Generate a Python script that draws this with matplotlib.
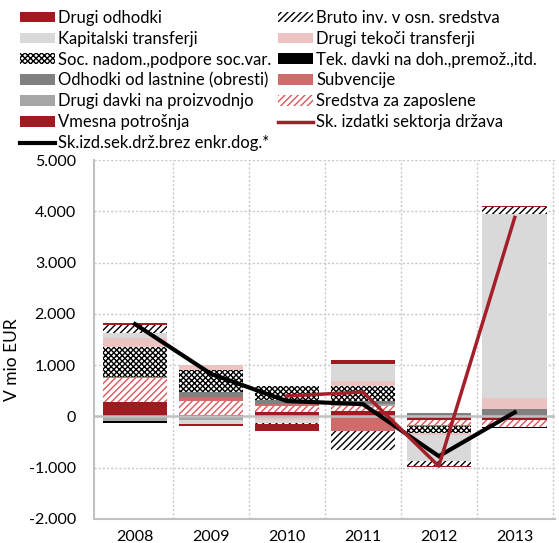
import numpy as np
import matplotlib
matplotlib.use("Agg")
import matplotlib.pyplot as plt
from matplotlib.ticker import FuncFormatter, FixedLocator
from matplotlib.patches import Patch
from matplotlib.lines import Line2D

plt.rcParams['font.family'] = ['Lato', 'DejaVu Sans']
plt.rcParams['axes.unicode_minus'] = False
plt.rcParams['hatch.linewidth'] = 1.0

years = ["2008", "2009", "2010", "2011", "2012", "2013"]

# stacked components (mio EUR), bottom-up stacking order
vmesna      = [290, 20, 90, 100, -60, -60]
sredstva    = [450, 290, 115, 100, -100, -145]
drugi_davki = [-80, -70, 0, 50, 0, 0]
subvencije  = [20, 75, 40, -290, -20, 0]
odhodki_last= [0, 100, 80, 50, 60, 150]
tek_davki   = [-40, 0, 0, 0, 0, -20]
soc_nadom   = [585, 430, 260, 290, -145, 0]
drugi_tek   = [175, 80, -70, 100, -40, 205]
kapitalski  = [100, -80, -50, 330, -505, 3600]
bruto_inv   = [165, 0, -25, -370, -90, 125]
drugi_odh   = [30, -40, -130, 80, -25, 30]

# lines
sk_izdatki      = [np.nan, np.nan, 400, 475, -970, 3880]
sk_izd_brez     = [1800, 830, 300, 240, -775, 80]

DR = "#9e1b22"
series = [
    ("Vmesna potrošnja", vmesna, dict(facecolor=DR, edgecolor=DR, hatch=None)),
    ("Sredstva za zaposlene", sredstva, dict(facecolor="white", edgecolor="#e0565a", hatch="/////")),
    ("Drugi davki na proizvodnjo", drugi_davki, dict(facecolor="#a6a6a6", edgecolor="#a6a6a6", hatch=None)),
    ("Subvencije", subvencije, dict(facecolor="#cf6b6b", edgecolor="#cf6b6b", hatch=None)),
    ("Odhodki od lastnine (obresti)", odhodki_last, dict(facecolor="#808080", edgecolor="#808080", hatch=None)),
    ("Tek. davki na doh.,premož.,itd.", tek_davki, dict(facecolor="black", edgecolor="black", hatch=None)),
    ("Soc. nadom.,podpore soc.var.", soc_nadom, dict(facecolor="white", edgecolor="black", hatch="xxxxxx")),
    ("Drugi tekoči transferji", drugi_tek, dict(facecolor="#ecc3c3", edgecolor="#ecc3c3", hatch=None)),
    ("Kapitalski transferji", kapitalski, dict(facecolor="#d9d9d9", edgecolor="#d9d9d9", hatch=None)),
    ("Bruto inv. v osn. sredstva", bruto_inv, dict(facecolor="white", edgecolor="black", hatch="/////")),
    ("Drugi odhodki", drugi_odh, dict(facecolor=DR, edgecolor=DR, hatch=None)),
]

fig = plt.figure(figsize=(5.59, 5.43), dpi=100)
ax = fig.add_axes([94/559, (543-519)/543, (555-94)/559, (519-160)/543])

x = np.arange(len(years))
pos = np.zeros(len(years))
neg = np.zeros(len(years))
handles = {}
for name, vals, st in series:
    v = np.array(vals, dtype=float)
    bottoms = np.where(v >= 0, pos, neg)
    ax.bar(x, v, width=0.85, bottom=bottoms, linewidth=0, zorder=3, **st)
    pos = pos + np.where(v > 0, v, 0)
    neg = neg + np.where(v < 0, v, 0)
    handles[name] = Patch(linewidth=0, **st)

ax.plot(x, sk_izd_brez, color="black", lw=3, zorder=5, solid_joinstyle="miter")
ax.plot(x, sk_izdatki, color="#a3202a", lw=2.5, zorder=6)

ax.set_xlim(-0.54, 5.53)
ax.set_ylim(-2000, 5000)
ax.set_xticks(x)
ax.set_xticklabels(years)
ax.yaxis.set_major_locator(FixedLocator(range(-2000, 5001, 1000)))
ax.yaxis.set_major_formatter(FuncFormatter(lambda v, p: f"{int(v):,}".replace(",", ".")))
ax.tick_params(axis="y", length=0, pad=13, labelsize=11.5)
ax.tick_params(axis="x", length=0, pad=8, labelsize=11.5)

for yv in range(-2000, 5001, 1000):
    if yv == 0:
        continue
    ax.axhline(yv, color="#c8c8c8", lw=1, ls=(0, (1.5, 1.5)), zorder=1)
for xv in np.arange(0.5, 5.6, 1.0):
    ax.axvline(xv, color="#c8c8c8", lw=1, ls=(0, (1.5, 1.5)), zorder=1)
ax.axhline(0, color="#c0c0c0", lw=1.8, zorder=4)

for s in ["top", "right"]:
    ax.spines[s].set_visible(False)
for s in ["left", "bottom"]:
    ax.spines[s].set_color("#c0c0c0")
    ax.spines[s].set_linewidth(1.5)

ax.set_ylabel("V mio EUR", fontsize=12.5)
ax.yaxis.set_label_coords(-0.16, 0.443)

col1 = ["Drugi odhodki", "Kapitalski transferji", "Soc. nadom.,podpore soc.var.",
        "Odhodki od lastnine (obresti)", "Drugi davki na proizvodnjo", "Vmesna potrošnja"]
col2 = ["Bruto inv. v osn. sredstva", "Drugi tekoči transferji", "Tek. davki na doh.,premož.,itd.",
        "Subvencije", "Sredstva za zaposlene"]

h1 = [handles[n] for n in col1] + [Line2D([], [], color="black", lw=3)]
l1 = col1 + ["Sk.izd.sek.drž.brez enkr.dog.*"]
h2 = [handles[n] for n in col2] + [Line2D([], [], color="#a3202a", lw=2.5)]
l2 = col2 + ["Sk. izdatki sektorja država"]

common = dict(loc="upper left", frameon=False, fontsize=12, borderpad=0, borderaxespad=0,
              handlelength=2.1, handleheight=0.6, handletextpad=0.2, labelspacing=0.29)
leg1 = fig.legend(h1, l1, bbox_to_anchor=(20/559, 1-10/543), **common)
leg2 = fig.legend(h2, l2, bbox_to_anchor=(278/559, 1-10/543), **common)

fig.savefig("out.png", dpi=100)
